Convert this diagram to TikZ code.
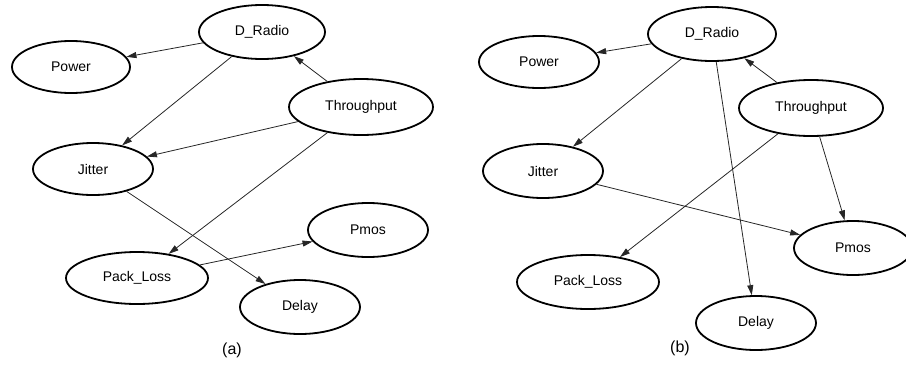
\documentclass[tikz,border=0pt]{standalone}
\usepackage{fontspec}
\setmainfont{Liberation Sans}
\usetikzlibrary{shapes.geometric,arrows.meta}
\begin{document}
\begin{tikzpicture}[x=1pt,y=-1pt,
  var/.style={ellipse,draw=black,line width=1.8pt,inner sep=0pt,font=\fontsize{14}{16}\selectfont},
  edge/.style={-{Triangle[length=10pt,width=6pt]},line width=0.8pt,draw=black!85},
  captext/.style={font=\fontsize{16}{18}\selectfont}]
\path[use as bounding box] (0,0) rectangle (906,365);
\clip (0,0) rectangle (906,365);
% panel (a)
\node[var,minimum width=126pt,minimum height=54pt] (ad) at (262,32) {D\_Radio};
\node[var,minimum width=118pt,minimum height=52pt] (apw) at (71,67) {Power};
\node[var,minimum width=144pt,minimum height=56pt] (at) at (361,107) {Throughput};
\node[var,minimum width=120pt,minimum height=52pt] (aj) at (93,169) {Jitter};
\node[var,minimum width=120pt,minimum height=54pt] (apm) at (368,230) {Pmos};
\node[var,minimum width=142pt,minimum height=52pt] (apl) at (137,278) {Pack\_Loss};
\node[var,minimum width=120pt,minimum height=54pt] (ade) at (300,307) {Delay};
\node[captext] (capa) at (232,350) {(a)};
\draw[edge] (ad) -- (apw);
\draw[edge] (ad) -- (aj);
\draw[edge] (at) -- (ad);
\draw[edge] (at) -- (aj);
\draw[edge] (at) -- (apl);
\draw[edge] (aj) -- (ade);
\draw[edge] (apl) -- (apm);
% panel (b)
\node[var,minimum width=128pt,minimum height=54pt] (bd) at (712,34) {D\_Radio};
\node[var,minimum width=120pt,minimum height=52pt] (bpw) at (539,62) {Power};
\node[var,minimum width=144pt,minimum height=56pt] (bt) at (811,108) {Throughput};
\node[var,minimum width=120pt,minimum height=54pt] (bj) at (543,171) {Jitter};
\node[var,minimum width=118pt,minimum height=54pt] (bpm) at (853,248) {Pmos};
\node[var,minimum width=142pt,minimum height=54pt] (bpl) at (588,282) {Pack\_Loss};
\node[var,minimum width=120pt,minimum height=54pt] (bde) at (756,323) {Delay};
\node[captext] (capb) at (680,348) {(b)};
\draw[edge] (bd) -- (bpw);
\draw[edge] (bd) -- (bj);
\draw[edge] (bd) -- (bde);
\draw[edge] (bt) -- (bd);
\draw[edge] (bt) -- (bpl);
\draw[edge] (bt) -- (bpm);
\draw[edge] (bj) -- (bpm);
\end{tikzpicture}
\end{document}
